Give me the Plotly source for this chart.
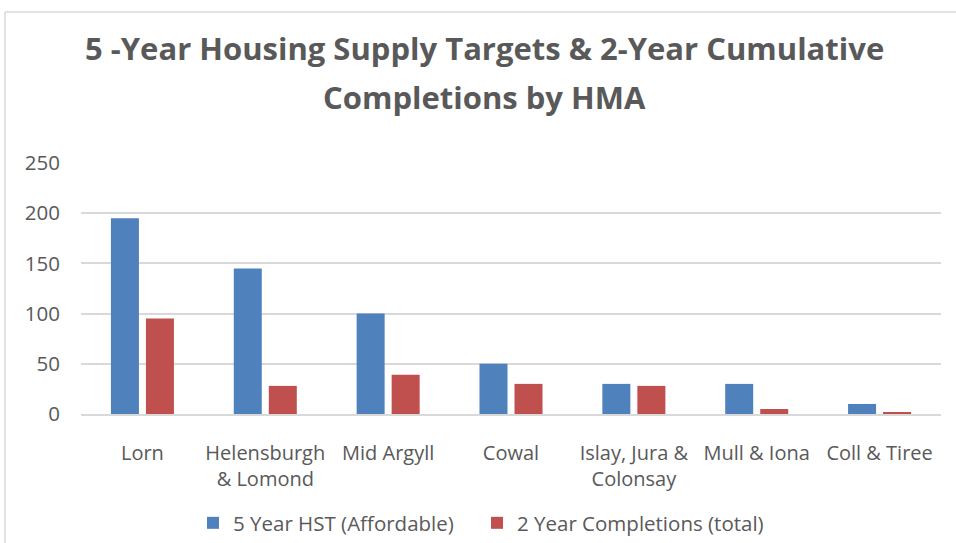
import plotly.graph_objects as go

categories = ["Lorn", "Helensburgh<br>& Lomond", "Mid Argyll", "Cowal",
              "Islay, Jura &<br>Colonsay", "Mull & Iona", "Coll & Tiree"]
hst_affordable = [195, 145, 100, 50, 30, 30, 10]
completions_total = [95, 28, 39, 30, 28, 5, 2]
y_ticks = [0, 50, 100, 150, 200, 250]
title_lines = ["5 -Year Housing Supply Targets & 2-Year Cumulative", "Completions by HMA"]

grey = "#595959"
font_family = "Open Sans, Liberation Sans, Arial, sans-serif"

fig = go.Figure()
fig.add_trace(go.Bar(x=categories, y=hst_affordable, name="5 Year HST (Affordable)",
                     marker=dict(color="#4F81BD", line=dict(width=0)),
                     legend="legend", showlegend=True))
fig.add_trace(go.Bar(x=categories, y=completions_total, name="2 Year Completions (total)",
                     marker=dict(color="#C0504D", line=dict(width=0)),
                     legend="legend2", showlegend=True))

L, R, T, B = 81, 15, 163, 129
W, H = 956, 543
pw, ph = W - L - R, H - T - B

def px_x(x):
    return (x - L) / pw

def px_y(y):
    return (H - B - y) / ph

annotations = [
    dict(text="<b>%s</b>" % title_lines[0], xref="paper", yref="paper",
         x=px_x(484), y=px_y(48), xanchor="center", yanchor="middle", showarrow=False,
         font=dict(family=font_family, size=31, color=grey)),
    dict(text="<b>%s</b>" % title_lines[1], xref="paper", yref="paper",
         x=px_x(484), y=px_y(97), xanchor="center", yanchor="middle", showarrow=False,
         font=dict(family=font_family, size=31, color=grey)),
]

legend_common = dict(orientation="h", xref="container", yref="container",
                     xanchor="left", y=(H - 523) / H, yanchor="middle",
                     font=dict(size=20.5, color=grey), itemsizing="constant",
                     itemwidth=30, bgcolor="rgba(0,0,0,0)", visible=True)

fig.update_layout(
    width=W, height=H,
    showlegend=True,
    margin=dict(l=L, r=R, t=T, b=B, autoexpand=False),
    paper_bgcolor="white", plot_bgcolor="white",
    barmode="group", bargap=0.43, bargroupgap=0.2,
    font=dict(family=font_family, color=grey, size=20),
    legend=dict(legend_common, x=193 / W),
    legend2=dict(legend_common, x=477 / W),
    xaxis=dict(showgrid=False, showline=True, linecolor="#D9D9D9", linewidth=1.5,
               tickfont=dict(size=20, color=grey), ticks="", ticklabelstandoff=20,
               fixedrange=True),
    yaxis=dict(range=[0, 250], tickvals=y_ticks, showgrid=True, gridcolor="#D9D9D9",
               gridwidth=1.5, zeroline=False, showline=False,
               tickfont=dict(size=20.5, color=grey), ticklabelstandoff=20, fixedrange=True),
    annotations=annotations,
    shapes=[
        dict(type="line", xref="paper", yref="paper", x0=px_x(5), x1=px_x(960),
             y0=px_y(12), y1=px_y(12), line=dict(color="#D9D9D9", width=1.5)),
        dict(type="line", xref="paper", yref="paper", x0=px_x(5), x1=px_x(5),
             y0=px_y(12), y1=px_y(560), line=dict(color="#D9D9D9", width=1.5)),
    ],
)

fig.write_html("out.html", config={"displayModeBar": False},
               post_script="document.body.style.margin='0';")
